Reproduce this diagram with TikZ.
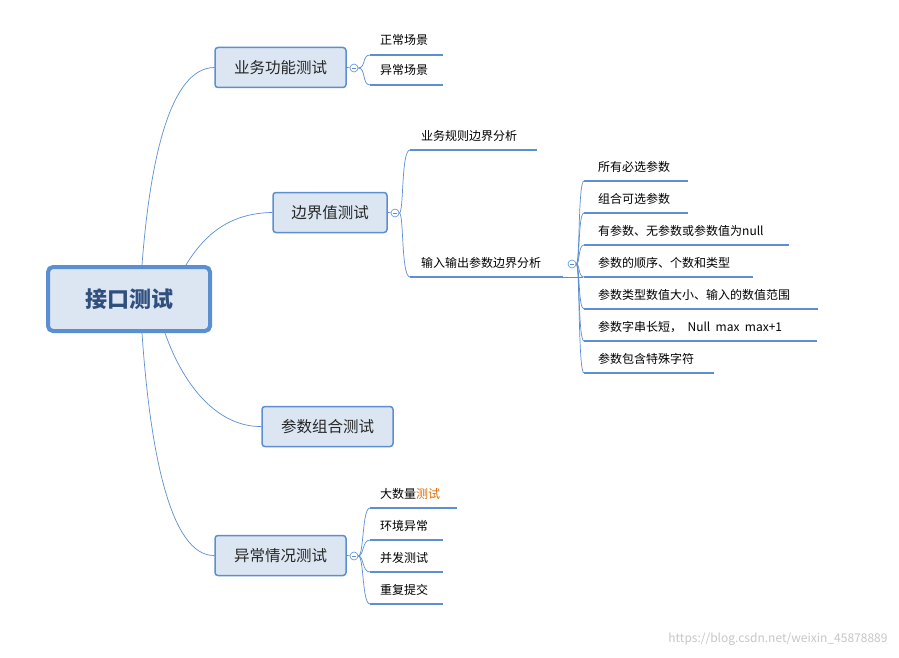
\documentclass[tikz,border=0pt]{standalone}
\usepackage{fontspec}
\setmainfont{Noto Sans CJK SC}
\begin{document}
\begin{tikzpicture}[x=1pt,y=-1pt,
  bl/.style={draw=blue!50!cyan!60!black,line width=0.8pt},
  rootbox/.style={draw=mblue,line width=4pt,fill=mfill,rounded corners=5pt,minimum width=162pt,minimum height=64pt,font=\fontsize{22}{24}\selectfont\bfseries,text=mtext},
  l1box/.style={draw=mblue,line width=1.5pt,fill=mfill,rounded corners=3pt,minimum height=40pt,font=\fontsize{15.5}{18}\selectfont,text=black!85},
  conn/.style={draw=mblue,line width=0.7pt},
  leafline/.style={draw=mblue,line width=2.5pt},
  leaftext/.style={anchor=west,font=\fontsize{12}{14}\selectfont,inner sep=0pt},
  tog/.style={circle,draw=mblue,line width=0.6pt,fill=white,minimum size=8pt,inner sep=0pt,path picture={\draw[mblue,line width=0.6pt] ([xshift=-2pt]path picture bounding box.center)--([xshift=2pt]path picture bounding box.center);}}]
\definecolor{mblue}{HTML}{5B8FD1}
\definecolor{mfill}{HTML}{DCE6F2}
\definecolor{mtext}{HTML}{2F4F7F}
\useasboundingbox[fill=white] (0,0) rectangle (899,658);
% root
\node[rootbox] (root) at (129,299) {接口测试};
% level 1
\node[l1box,minimum width=131pt] (a) at (280.5,67.5) {业务功能测试};
\node[l1box,minimum width=114pt] (b) at (330,212.5) {边界值测试};
\node[l1box,minimum width=131pt] (c) at (327.5,426.5) {参数组合测试};
\node[l1box,minimum width=131pt] (d) at (280.5,555.5) {异常情况测试};
\coordinate (r1) at (142,265); \coordinate (r2) at (186,265);
\coordinate (r3) at (165,333); \coordinate (r4) at (142,333);
\draw[conn] (r1) .. controls (150,160) and (170,68) .. (a.west);
\draw[conn] (r2) .. controls (210,225) and (240,213) .. (b.west);
\draw[conn] (r3) .. controls (185,390) and (220,427) .. (c.west);
\draw[conn] (r4) .. controls (150,450) and (170,556) .. (d.west);
% toggles
\node[tog] (ta) at (354,68) {};
\node[tog] (tb) at (395,213) {};
\node[tog] (td) at (354,556) {};
\draw[conn] (a.east)--(ta); \draw[conn] (b.east)--(tb); \draw[conn] (d.east)--(td);
% leaves of a
\foreach \n/\y/\xe/\t in {a1/55/443/正常场景,a2/85/443/异常场景}{
  \coordinate (\n) at (370,\y); \coordinate (\n e) at (\xe,\y);
  \draw[leafline] (\n)--(\n e);
  \node[leaftext] at (380,\y-15) {\t};
  \draw[conn] (ta.east) .. controls (366,68) and (362,\y) .. (\n);
}
% leaves of b
\foreach \n/\y/\xe/\t in {b1/150/537/业务规则边界分析,b2/277/563/输入输出参数边界分析}{
  \coordinate (\n) at (410,\y); \coordinate (\n e) at (\xe,\y);
  \draw[leafline] (\n)--(\n e);
  \node[leaftext] at (421,\y-14) {\t};
  \draw[conn] (tb.east) .. controls (404,213) and (401,\y) .. (\n);
}
\node[tog] (tb2) at (572,264) {};
\draw[conn] (b2e)--(583,277);
\foreach \n/\y/\xe/\t in {c1/181/688/所有必选参数,c2/213/688/组合可选参数,c3/245/789/有参数、无参数或参数值为null,c4/277/753/参数的顺序、个数和类型,c5/309/818/参数类型数值大小、输入的数值范围,c6/341/817/{参数字串长短，\ \ Null\ \ max\ \ max+1},c7/373/714/参数包含特殊字符}{
  \coordinate (\n) at (584,\y); \coordinate (\n e) at (\xe,\y);
  \draw[leafline] (\n)--(\n e);
  \node[leaftext] at (598,\y-14) {\t};
  \draw[conn] (tb2.east) .. controls (580,264) and (578,\y) .. (\n);
}
% leaves of d
\foreach \n/\y/\xe/\t in {d1/508/457/大数量{\color{orange!85!black}测试},d2/540/443/环境异常,d3/572/443/并发测试,d4/604/443/重复提交}{
  \coordinate (\n) at (370,\y); \coordinate (\n e) at (\xe,\y);
  \draw[leafline] (\n)--(\n e);
  \node[leaftext] at (380,\y-14) {\t};
  \draw[conn] (td.east) .. controls (364,556) and (362,\y) .. (\n);
}
\node[anchor=east,font=\fontsize{12}{14}\selectfont,text=black!22] (wm) at (891,639) {https://blog.csdn.net/weixin\_45878889};
\end{tikzpicture}
\end{document}
